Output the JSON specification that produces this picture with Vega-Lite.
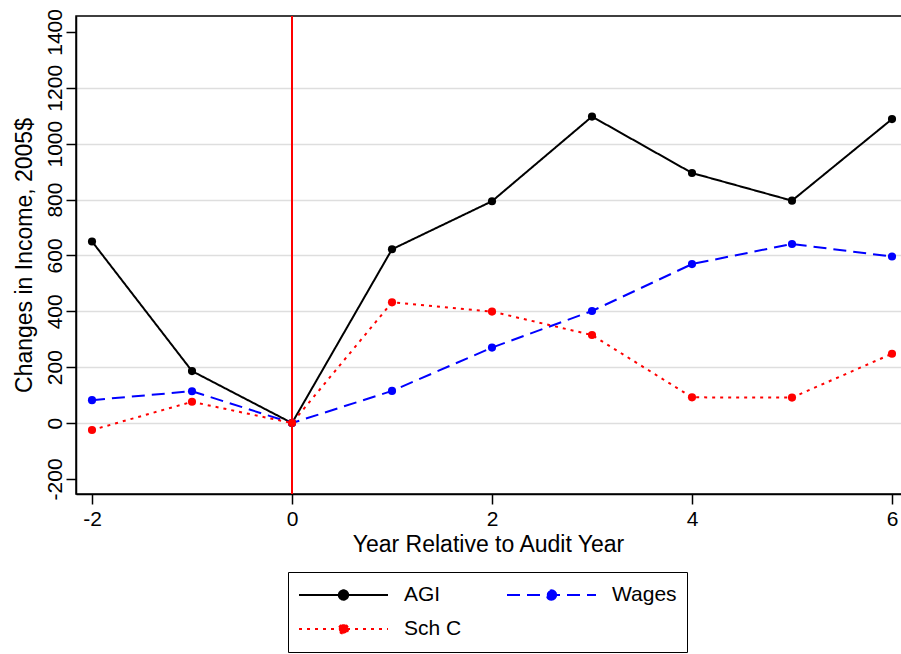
{
  "$schema": "https://vega.github.io/schema/vega-lite/v6.json",
  "autosize": {"type": "none"},
  "width": 826,
  "height": 478,
  "padding": {"left": 76, "top": 16, "right": 0, "bottom": 160},
  "background": "white",
  "config": {
    "font": "Liberation Sans",
    "view": {"stroke": "black", "strokeWidth": 1.5},
    "axis": {
      "labelFont": "Liberation Sans",
      "titleFont": "Liberation Sans",
      "labelFontSize": 21,
      "titleFontSize": 23,
      "titleFontWeight": "normal",
      "labelColor": "black",
      "titleColor": "black",
      "domainColor": "black",
      "domainWidth": 1.5,
      "tickColor": "black",
      "tickWidth": 1.5,
      "tickSize": 10
    },
    "legend": {
      "orient": "none",
      "legendX": 212,
      "legendY": 556,
      "direction": "horizontal",
      "columns": 2,
      "labelFont": "Liberation Sans",
      "labelFontSize": 21,
      "labelColor": "black",
      "labelOffset": 15,
      "symbolSize": 7921,
      "symbolStrokeWidth": 2,
      "clipHeight": 26,
      "strokeColor": "black",
      "fillColor": "white",
      "padding": 10,
      "columnPadding": 44,
      "rowPadding": 8
    }
  },
  "data": {
    "values": [
      {"year": -2, "series": "AGI", "value": 650},
      {"year": -1, "series": "AGI", "value": 186},
      {"year": 0, "series": "AGI", "value": 0},
      {"year": 1, "series": "AGI", "value": 622},
      {"year": 2, "series": "AGI", "value": 794},
      {"year": 3, "series": "AGI", "value": 1097},
      {"year": 4, "series": "AGI", "value": 895},
      {"year": 5, "series": "AGI", "value": 796},
      {"year": 6, "series": "AGI", "value": 1088},
      {"year": -2, "series": "Wages", "value": 82},
      {"year": -1, "series": "Wages", "value": 114},
      {"year": 0, "series": "Wages", "value": 0},
      {"year": 1, "series": "Wages", "value": 115},
      {"year": 2, "series": "Wages", "value": 270},
      {"year": 3, "series": "Wages", "value": 401},
      {"year": 4, "series": "Wages", "value": 569},
      {"year": 5, "series": "Wages", "value": 641},
      {"year": 6, "series": "Wages", "value": 596},
      {"year": -2, "series": "Sch C", "value": -25},
      {"year": -1, "series": "Sch C", "value": 76},
      {"year": 0, "series": "Sch C", "value": 0},
      {"year": 1, "series": "Sch C", "value": 432},
      {"year": 2, "series": "Sch C", "value": 399},
      {"year": 3, "series": "Sch C", "value": 315},
      {"year": 4, "series": "Sch C", "value": 92},
      {"year": 5, "series": "Sch C", "value": 91},
      {"year": 6, "series": "Sch C", "value": 248}
    ]
  },
  "encoding": {
    "x": {
      "field": "year",
      "type": "quantitative",
      "scale": {"domain": [-2.16, 6.10], "nice": false, "zero": false},
      "axis": {
        "values": [-2, 0, 2, 4, 6],
        "labelExpr": "'' + datum.value",
        "grid": false,
        "title": "Year Relative to Audit Year",
        "labelPadding": 4,
        "titlePadding": 4,
        "titleX": 412
      }
    },
    "y": {
      "field": "value",
      "type": "quantitative",
      "scale": {"domain": [-254, 1457], "nice": false, "zero": false},
      "axis": {
        "values": [-200, 0, 200, 400, 600, 800, 1000, 1200, 1400],
        "labelExpr": "'' + datum.value",
        "title": "Changes in Income, 2005$",
        "labelAngle": -90,
        "labelAlign": "center",
        "labelBaseline": "bottom",
        "labelPadding": 1,
        "titlePadding": 8,
        "grid": true,
        "gridColor": "#dedede",
        "gridWidth": 1.5,
        "gridOpacity": {"condition": {"test": "datum.value == -200 || datum.value == 1400", "value": 0}, "value": 1}
      }
    }
  },
  "layer": [
    {
      "mark": {"type": "rule", "color": "#ff0000", "strokeWidth": 1.5},
      "encoding": {"x": {"datum": 0}, "y": null}
    },
    {
      "mark": {"type": "line", "strokeWidth": 2},
      "encoding": {
        "color": {
          "field": "series",
          "type": "nominal",
          "scale": {"domain": ["AGI", "Wages", "Sch C"], "range": ["#000000", "#0000ff", "#ff0000"]},
          "legend": {
            "title": null,
            "symbolType": "M-1,0H1M0.105,0A0.105,0.105 0 1 1 -0.105,0A0.105,0.105 0 1 1 0.105,0",
            "encode": {"symbols": {"update": {"fill": {"scale": "color", "field": "value"}}}}
          }
        },
        "strokeDash": {
          "field": "series",
          "type": "nominal",
          "scale": {"domain": ["AGI", "Wages", "Sch C"], "range": [[1, 0], [13, 7], [3, 5]]},
          "legend": null
        }
      }
    },
    {
      "mark": {"type": "point", "filled": true, "opacity": 1, "size": 66, "shape": "circle"},
      "encoding": {
        "color": {"field": "series", "type": "nominal", "legend": null}
      }
    }
  ]
}
